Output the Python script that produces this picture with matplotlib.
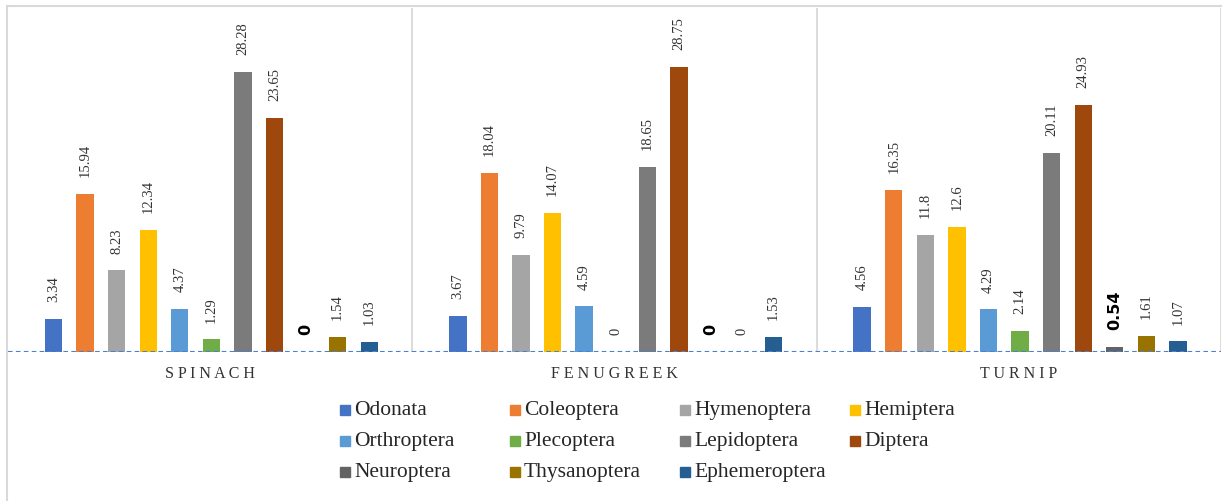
import numpy as np
import matplotlib
matplotlib.use("Agg")
import matplotlib.pyplot as plt
from matplotlib.lines import Line2D
from matplotlib.patches import Rectangle

# Dati
crops = ["SPINACH", "FENUGREEK", "TURNIP"]
orders = ["Odonata", "Coleoptera", "Hymenoptera", "Hemiptera", "Orthroptera",
          "Plecoptera", "Lepidoptera", "Diptera", "Neuroptera", "Thysanoptera",
          "Ephemeroptera"]
spinach = [3.34, 15.94, 8.23, 12.34, 4.37, 1.29, 28.28, 23.65, 0, 1.54, 1.03]
fenugreek = [3.67, 18.04, 9.79, 14.07, 4.59, 0, 18.65, 28.75, 0, 0, 1.53]
turnip = [4.56, 16.35, 11.8, 12.6, 4.29, 2.14, 20.11, 24.93, 0.54, 1.61, 1.07]
labels_spinach = ["3.34", "15.94", "8.23", "12.34", "4.37", "1.29", "28.28", "23.65", "0", "1.54", "1.03"]
labels_fenugreek = ["3.67", "18.04", "9.79", "14.07", "4.59", "0", "18.65", "28.75", "0", "0", "1.53"]
labels_turnip = ["4.56", "16.35", "11.8", "12.6", "4.29", "2.14", "20.11", "24.93", "0.54", "1.61", "1.07"]

colors = ["#4472C4", "#ED7D31", "#A5A5A5", "#FFC000", "#5B9BD5", "#70AD47",
          "#7B7B7B", "#9E480E", "#636363", "#997300", "#255E91"]

values = np.array([spinach, fenugreek, turnip])
labels = [labels_spinach, labels_fenugreek, labels_turnip]

W, H = 1222, 501
fig = plt.figure(figsize=(W / 100, H / 100), dpi=100)
ax = fig.add_axes([8 / W, (H - 352) / H, (1221 - 8) / W, (352 - 8) / H])

x = np.arange(len(crops))
step = 0.0781
width = 0.043
for j, name in enumerate(orders):
    pos = x + (j - 5) * step + 0.003
    ax.bar(pos, values[:, j], width, color=colors[j], label=name, zorder=2)
    for i in range(len(crops)):
        if name == "Neuroptera":
            ax.annotate(labels[i][j], (pos[i], values[i, j]), xytext=(0, 12),
                        textcoords="offset points", rotation=90, ha="center",
                        va="bottom", fontsize=11.5, fontweight="bold",
                        family="DejaVu Sans")
        else:
            ax.annotate(labels[i][j], (pos[i], values[i, j]), xytext=(0, 12),
                        textcoords="offset points", rotation=90, ha="center",
                        va="bottom", fontsize=10.5, family="Liberation Serif",
                        color="#333333")

ax.set_xlim(-0.5, 2.5)
ax.set_ylim(0, 34.7)
ax.set_yticks([])
ax.set_xticks(x)
ax.set_xticklabels([" ".join(c) for c in crops], family="Liberation Serif",
                   fontsize=11.5, color="#333333")
ax.tick_params(axis="x", length=0, pad=10)
for s in ax.spines.values():
    s.set_visible(False)
ax.axhline(0, color="#4A7FD4", lw=1.5, ls=(0, (2.2, 1.6)), zorder=3)
for b in [0.5, 1.5, 2.5]:
    ax.axvline(b, color="#D9D9D9", lw=1.3, zorder=1)

# Bordo dell'area del grafico
fig.add_artist(Line2D([7.5 / W, 7.5 / W], [0, 1 - 6 / H], color="#D9D9D9", lw=1.5))
fig.add_artist(Line2D([7.5 / W, 1221 / W], [1 - 6 / H, 1 - 6 / H], color="#D9D9D9", lw=1.5))

# Legenda (4 colonne, riempita per righe)
for k, name in enumerate(orders):
    row, col = k // 4, k % 4
    cx = 340 + col * 170
    cy = 410 + row * 31
    fig.add_artist(Rectangle((cx / W, (H - cy - 5) / H), 10 / W, 10 / H,
                             color=colors[k], transform=fig.transFigure))
    fig.text((cx + 14) / W, (H - cy - 5) / H, name, va="baseline", ha="left",
             family="Liberation Serif", fontsize=15.5, color="#262626")

fig.savefig("out.png", dpi=100)
